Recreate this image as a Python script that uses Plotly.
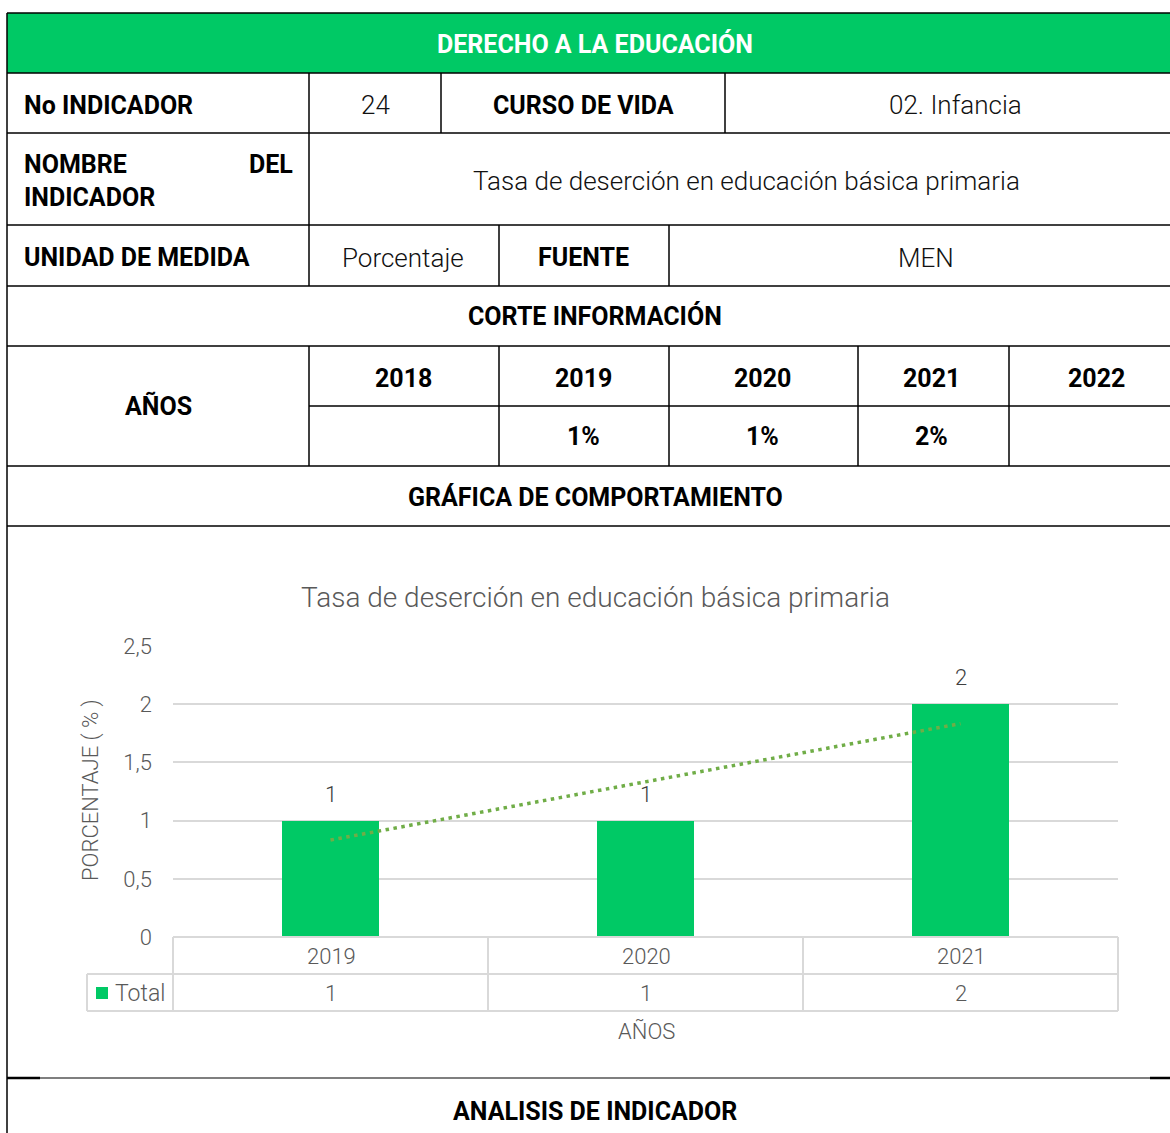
import numpy as np
import plotly.graph_objects as go

W, H = 1170, 1133

# ---------------- data ----------------
years_header = ["2018", "2019", "2020", "2021", "2022"]
years_pct = ["", "1%", "1%", "2%", ""]
chart_years = ["2019", "2020", "2021"]
chart_values = [1, 1, 2]
y_ticks = [0, 0.5, 1, 1.5, 2, 2.5]

chart_title = "Tasa de deserción en educación básica primaria"

def px(x):
    return x / W

def py(y):
    return 1 - y / H

FONT = "Roboto"
GREEN = "#00C965"
GRAY_TXT = "#595959"
GRID = "#D9D9D9"
BSZ = 25   # bold table text
RSZ = 26   # regular table text
CSZ = 22   # chart small text

fig = go.Figure()

# bars
xs = list(range(len(chart_years)))
fig.add_trace(go.Bar(x=xs, y=chart_values, width=0.31, marker=dict(color=GREEN, line=dict(width=0)),
                     showlegend=False, hoverinfo="skip"))
# linear trendline
slope, intercept = np.polyfit(xs, chart_values, 1)
tx = [xs[0], xs[-1]]
ty = [intercept + slope * t for t in tx]
fig.add_trace(go.Scatter(x=tx, y=ty, mode="lines", line=dict(color="#70AD47", width=3.5, dash="3.5px,4.5px"),
                         showlegend=False, hoverinfo="skip"))

shapes = []
ann = []

def hline(y, x0, x1, color="black", w=1.5):
    shapes.append(dict(type="line", xref="paper", yref="paper", x0=px(x0), x1=px(x1), y0=py(y), y1=py(y),
                       line=dict(color=color, width=w)))

def vline(x, y0, y1, color="black", w=1.5):
    shapes.append(dict(type="line", xref="paper", yref="paper", x0=px(x), x1=px(x), y0=py(y0), y1=py(y1),
                       line=dict(color=color, width=w)))

def text(t, x, y, size=RSZ, bold=False, color="#111111", xanchor="center", fam=FONT, angle=0):
    if bold:
        s = f"<b>{t}</b>"
        weight = 700
        if size == RSZ:
            size = BSZ
        if color == "#111111":
            color = "black"
    else:
        s = t
        weight = 300
    ann.append(dict(text=s, xref="paper", yref="paper", x=px(x), y=py(y), xanchor=xanchor, yanchor="middle",
                    showarrow=False, textangle=angle,
                    font=dict(family=fam, size=size, color=color, weight=weight)))

# green header
shapes.append(dict(type="rect", xref="paper", yref="paper", x0=px(7), x1=px(1172), y0=py(73), y1=py(13),
                   fillcolor=GREEN, line=dict(width=0), layer="below"))

# table grid
hline(13, 7, 1170)
for y in [73, 133, 225, 286, 346, 466, 526]:
    hline(y, 7, 1170)
hline(406, 309, 1170)
hline(1078, 7, 1170, w=1.2)
hline(1078, 7, 40, w=2.5)
hline(1078, 1150, 1170, w=2.5)
vline(7, 13, 1133)
for x in [309, 441, 725]:
    vline(x, 73, 133)
vline(309, 133, 225)
for x in [309, 499, 669]:
    vline(x, 225, 286)
for x in [309, 499, 669, 858, 1009]:
    vline(x, 346, 466)

# table texts
text("DERECHO A LA EDUCACIÓN", 595, 44, bold=True, color="white")
text("No INDICADOR", 22, 105, bold=True, xanchor="left")
text("24", 375, 105)
text("CURSO DE VIDA", 583, 105, bold=True)
text("02. Infancia", 955, 105)
text("NOMBRE", 22, 164, bold=True, xanchor="left")
text("DEL", 295, 164, bold=True, xanchor="right")
text("INDICADOR", 22, 197, bold=True, xanchor="left")
text(chart_title, 746, 181)
text("UNIDAD DE MEDIDA", 22, 258, bold=True, xanchor="left")
text("Porcentaje", 403, 258)
text("FUENTE", 583, 258, bold=True)
text("MEN", 926, 258)
text("CORTE INFORMACIÓN", 595, 316, bold=True)
text("AÑOS", 158, 406, bold=True)
col_centers = [403, 583, 762, 932, 1096]
for c, yh, yp in zip(col_centers, years_header, years_pct):
    text(yh, c, 378, bold=True)
    if yp:
        text(yp, c, 437, bold=True)
text("GRÁFICA DE COMPORTAMIENTO", 595, 497, bold=True)
text("ANALISIS DE INDICADOR", 595, 1111, bold=True)

# chart title and axis title
text(chart_title, 595, 597, size=28, color=GRAY_TXT)
text("PORCENTAJE ( % )", 91, 790, size=CSZ, color=GRAY_TXT, angle=-90)

# data table under chart
hline(937, 173, 1118, color=GRID, w=2)
hline(974, 87, 1118, color=GRID, w=2)
hline(1011, 87, 1118, color=GRID, w=2)
for x in [173, 488, 803, 1118]:
    vline(x, 937, 1011, color=GRID, w=2)
vline(87, 974, 1011, color=GRID, w=2)
cell_centers = [331, 646, 961]
for c, yr, v in zip(cell_centers, chart_years, chart_values):
    text(yr, c, 956, size=CSZ, color=GRAY_TXT)
    text(str(v), c, 993, size=CSZ, color=GRAY_TXT)
shapes.append(dict(type="rect", xref="paper", yref="paper", x0=px(96), x1=px(108), y0=py(999), y1=py(987),
                   fillcolor=GREEN, line=dict(width=0)))
text("Total", 113, 993, size=23, color=GRAY_TXT, xanchor="left")
text("AÑOS", 646, 1031, size=CSZ, color=GRAY_TXT)

# bar data labels
for i, v in zip(xs, chart_values):
    ann.append(dict(text=str(v), x=i, y=v, xref="x", yref="y", yanchor="bottom", yshift=12, showarrow=False,
                    font=dict(family=FONT, size=CSZ, color="#404040", weight=300)))

fig.update_layout(
    width=W, height=H,
    margin=dict(l=0, r=0, t=0, b=0, autoexpand=False),
    paper_bgcolor="white", plot_bgcolor="white",
    separators=",.",
    shapes=shapes, annotations=ann,
    bargap=0,
    xaxis=dict(domain=[px(173), px(1118)], range=[-0.5, 2.5], showticklabels=False, showgrid=False,
               zeroline=False, showline=False, fixedrange=True, automargin=False),
    yaxis=dict(domain=[py(937), py(646)], range=[0, 2.5], tickvals=y_ticks, showgrid=True, gridcolor=GRID,
               gridwidth=1.5, zeroline=False, showline=False, ticklabelstandoff=20, automargin=False,
               tickfont=dict(family=FONT, size=CSZ, color=GRAY_TXT, weight=300), fixedrange=True),
    font=dict(family=FONT),
)

fig.write_html("out.html", config={"displayModeBar": False},
               post_script="document.body.style.margin='0';document.body.style.overflow='hidden';")
